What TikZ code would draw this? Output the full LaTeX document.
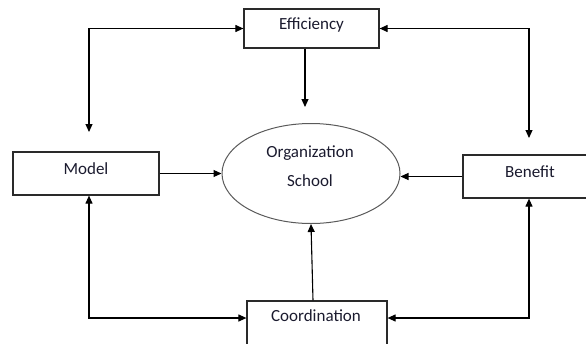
\documentclass[tikz,border=0pt]{standalone}
\usepackage{fontspec}
\setmainfont{Carlito}
\usetikzlibrary{arrows.meta,shapes.geometric}
\definecolor{txtc}{HTML}{1A1A2E}
\definecolor{boxc}{HTML}{2A2A2A}
\definecolor{ellc}{HTML}{5A5A5A}
\tikzset{
  boxnode/.style={draw=boxc, line width=1.2pt, rectangle, inner sep=0pt},
  txt/.style={text=txtc, font=\fontsize{17}{29}\selectfont, inner sep=0pt, align=center},
  conn/.style={line width=1.1pt, draw=black, arrows={-Triangle[length=8pt,width=7pt]}},
  dconn/.style={line width=1.1pt, draw=black, arrows={Triangle[length=8pt,width=7pt]-Triangle[length=8pt,width=7pt]}}
}
\begin{document}
\begin{tikzpicture}[x=1pt,y=-1pt]
\useasboundingbox (0,0) rectangle (586,343);
\begin{scope}
\clip (0,0) rectangle (586,343);
% boxes
\node[boxnode, minimum width=135pt, minimum height=39pt] (eff) at (311.5,28.5) {};
\node[boxnode, minimum width=146pt, minimum height=43pt] (model) at (86,173.5) {};
\node[boxnode, minimum width=134pt, minimum height=43pt] (ben) at (530,176.5) {};
\node[boxnode, minimum width=140pt, minimum height=46pt] (coord) at (317,324) {};
\node[draw=ellc, line width=1pt, ellipse, minimum width=178pt, minimum height=100pt, inner sep=0pt] (org) at (311,173.5) {};
\end{scope}
% texts
\node[txt] (efft) at (311.5,25) {Efficiency};
\node[txt] (modelt) at (86,169) {Model};
\node[txt] (bent) at (530,172) {Benefit};
\node[txt] (coordt) at (316,316) {Coordination};
\node[txt] (orgt) at (310,166.5) {Organization\\School};
% helper coordinates
\coordinate (c1) at (89,132);
\coordinate (c2) at (529,138);
\coordinate (c3) at (305,107);
\coordinate (m1) at (89,318);
\coordinate (b1) at (529,318);
% connectors
\draw[dconn] (eff.west) -| (c1);
\draw[dconn] (eff.east) -| (c2);
\draw[conn] (c3 |- eff.south) -- (c3);
\draw[conn] (model.east) -- (org.west);
\draw[conn] (ben.west) -- (ben.west -| org.east);
\draw[conn] ([xshift=-4pt]coord.north) -- (org.south);
\draw[dconn] (m1 |- model.south) -- (m1) -- (m1 -| coord.west);
\draw[dconn] (b1 |- ben.south) -- (b1) -- (b1 -| coord.east);
\end{tikzpicture}
\end{document}
